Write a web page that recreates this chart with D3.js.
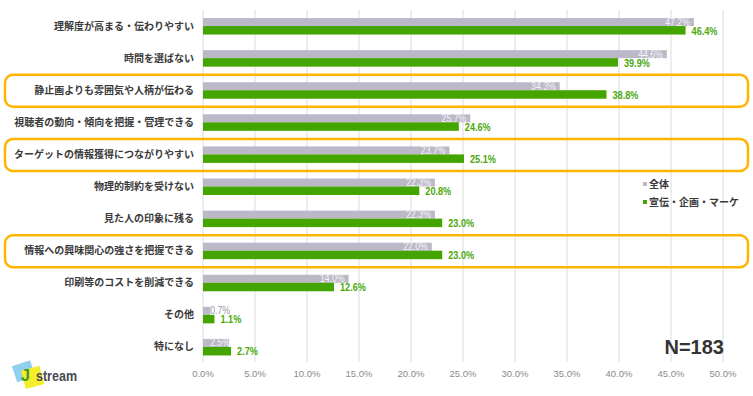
<!DOCTYPE html>
<meta charset="utf-8">
<style>
body { margin: 0; background: #fff; }
svg text { font-family: "Noto Sans CJK JP", "Noto Sans", sans-serif; }
.cat { font-size: 10px; font-weight: bold; fill: #3a3a3a; }
.tick { font-family: "Liberation Sans", Arial, sans-serif !important; font-size: 9.5px; fill: #8a8a8a; }
.vall { font-family: "Liberation Sans", Arial, sans-serif !important; font-size: 10px; }
.valg { font-family: "Liberation Sans", Arial, sans-serif !important; font-size: 10.5px; font-weight: bold; fill: #4aa80a; }
</style>
<body>
<svg width="753" height="396"></svg>
<script src="https://d3js.org/d3.v7.min.js"></script>
<script>

// categories, top to bottom
var categories = [
  "理解度が高まる・伝わりやすい",
  "時間を選ばない",
  "静止画よりも雰囲気や人柄が伝わる",
  "視聴者の動向・傾向を把握・管理できる",
  "ターゲットの情報獲得につながりやすい",
  "物理的制約を受けない",
  "見た人の印象に残る",
  "情報への興味関心の強さを把握できる",
  "印刷等のコストを削減できる",
  "その他",
  "特になし"
];
var allValues = [47.2, 44.6, 34.3, 25.7, 23.7, 22.3, 22.3, 22.0, 14.0, 0.7, 2.5];
var mktValues = [46.4, 39.9, 38.8, 24.6, 25.1, 20.8, 23.0, 23.0, 12.6, 1.1, 2.7];
var highlighted = ["静止画よりも雰囲気や人柄が伝わる", "ターゲットの情報獲得につながりやすい", "情報への興味関心の強さを把握できる"];
var ticks = [0, 5, 10, 15, 20, 25, 30, 35, 40, 45, 50];
var seriesNames = ["全体", "宣伝・企画・マーケ"];

var grayC = "#bcb8c8", greenC = "#45a500", orangeC = "#ffb400";

var svg = d3.select("svg");

var x = d3.scaleLinear().domain([0, 50]).range([203, 723]);
var y = d3.scaleBand().domain(categories).range([10, 363]);

// squeeze the number labels a bit, the original font is narrow
function narrow(sel) {
  sel.each(function() {
    var w = this.getComputedTextLength();
    d3.select(this).attr("textLength", w * 0.87).attr("lengthAdjust", "spacingAndGlyphs");
  });
}

// grid lines
svg.append("g").selectAll("line")
  .data(ticks)
  .enter().append("line")
    .attr("x1", d => x(d)).attr("x2", d => x(d))
    .attr("y1", 10).attr("y2", 362)
    .attr("stroke", "#dcdbe0").attr("stroke-width", 1);

// x axis labels
svg.append("g").selectAll("text")
  .data(ticks)
  .enter().append("text")
    .attr("class", "tick")
    .attr("x", d => x(d)).attr("y", 377)
    .attr("text-anchor", "middle")
    .text(d => d.toFixed(1) + "%");

// highlight boxes
svg.append("g").selectAll("rect")
  .data(highlighted)
  .enter().append("rect")
    .attr("x", 5).attr("y", d => y(d) + y.bandwidth() / 2 - 15.5)
    .attr("width", 743).attr("height", 32)
    .attr("rx", 8).attr("ry", 8)
    .attr("fill", "none").attr("stroke", orangeC).attr("stroke-width", 2.5);

var rows = categories.map(function(c, i) {
  return { cat: c, all: allValues[i], mkt: mktValues[i] };
});

var g = svg.append("g");

// gray bars (全体)
g.selectAll(".barAll")
  .data(rows)
  .enter().append("rect")
    .attr("class", "barAll")
    .attr("x", x(0))
    .attr("y", d => y(d.cat) + y.bandwidth() / 2 - 8)
    .attr("width", d => x(d.all) - x(0))
    .attr("height", 8)
    .attr("fill", grayC);

// green bars
g.selectAll(".barMkt")
  .data(rows)
  .enter().append("rect")
    .attr("class", "barMkt")
    .attr("x", x(0))
    .attr("y", d => y(d.cat) + y.bandwidth() / 2)
    .attr("width", d => x(d.mkt) - x(0))
    .attr("height", 8.5)
    .attr("fill", greenC);

// category labels
g.selectAll(".cat")
  .data(rows)
  .enter().append("text")
    .attr("class", "cat")
    .attr("x", 194)
    .attr("y", d => y(d.cat) + y.bandwidth() / 2 + 3.5)
    .attr("text-anchor", "end")
    .text(d => d.cat);

// gray value labels (inside end)
g.selectAll(".vall")
  .data(rows)
  .enter().append("text")
    .attr("class", "vall")
    .attr("x", d => Math.max(x(d.all) - 4, x(0) + 27))
    .attr("y", d => y(d.cat) + y.bandwidth() / 2 - 0.5)
    .attr("text-anchor", "end")
    .attr("fill", d => (x(d.all) - x(0) > 25 ? "#f4f4f6" : "#9a98a4"))
    .text(d => d.all.toFixed(1) + "%")
    .call(narrow);

// green value labels (outside end)
g.selectAll(".valg")
  .data(rows)
  .enter().append("text")
    .attr("class", "valg")
    .attr("x", d => x(d.mkt) + 6)
    .attr("y", d => y(d.cat) + y.bandwidth() / 2 + 8.5)
    .text(d => d.mkt.toFixed(1) + "%")
    .call(narrow);

// legend
var legend = svg.append("g").attr("transform", "translate(643,184)");
[grayC, greenC].forEach(function(c, i) {
  legend.append("rect").attr("x", 0).attr("y", i * 18 - 2).attr("width", 4).attr("height", 4).attr("fill", c);
  legend.append("text").attr("x", 6).attr("y", i * 18 + 3.5)
    .attr("font-size", "10px").attr("font-weight", "bold").attr("fill", "#3a3a3a")
    .text(seriesNames[i]);
});

// N label
svg.append("text")
  .attr("x", 724).attr("y", 354)
  .attr("text-anchor", "end")
  .attr("font-size", "20px").attr("font-weight", "bold").attr("fill", "#333")
  .style("font-family", "'Liberation Sans', Arial, sans-serif")
  .text("N=183");

// logo
var logo = svg.append("g");
logo.append("rect").attr("x", 14).attr("y", 363).attr("width", 19).attr("height", 17)
  .attr("fill", "#8fd0ee").attr("transform", "rotate(-18,23,371)");
logo.append("rect").attr("x", 23).attr("y", 368).attr("width", 19).attr("height", 19)
  .attr("fill", "#f5ec2a").attr("transform", "rotate(-15,32,377)");
logo.append("text").attr("x", 21).attr("y", 381)
  .attr("font-size", "16px").attr("font-weight", "bold").attr("fill", "#3b9a2a")
  .style("font-family", "'Liberation Sans', Arial, sans-serif")
  .text("J");
logo.append("text").attr("x", 36).attr("y", 381)
  .attr("font-size", "15px").attr("fill", "#454a52")
  .attr("textLength", 41).attr("lengthAdjust", "spacingAndGlyphs")
  .style("font-family", "'Liberation Sans', Arial, sans-serif")
  .style("font-weight", "600")
  .text("stream");

</script>
</body>
